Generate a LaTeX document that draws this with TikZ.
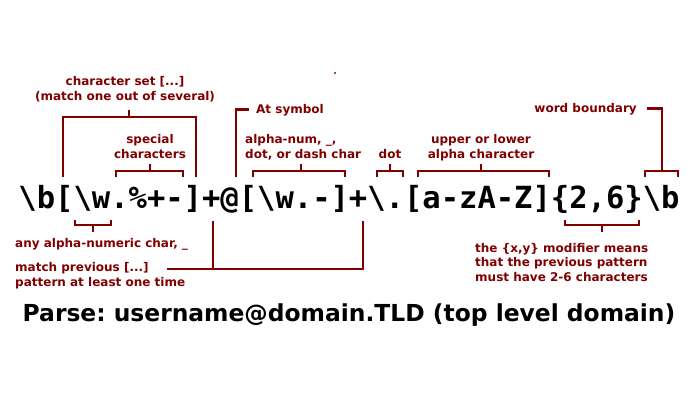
\documentclass[tikz,border=0pt]{standalone}
\usepackage{fontspec}
\setmainfont{DejaVu Sans}
\setmonofont{DejaVu Sans Mono}
\usetikzlibrary{positioning}
\definecolor{notecolor}{HTML}{800000}
\frenchspacing

\begin{document}
\begin{tikzpicture}[x=1pt, y=-1pt,
    note/.style={font=\fontsize{12}{14.5}\selectfont\bfseries, text=notecolor,
                 inner sep=0pt},
    brace/.style={draw=notecolor, line width=2.9pt},
    regex/.style={font=\fontsize{30.5}{36}\selectfont\ttfamily\bfseries, inner sep=0pt}
]
    \useasboundingbox (0,0) rectangle (700,400);

    % the expression and the title
    \node[regex, anchor=base] (expr) at (349,208)
        {\textbackslash b[\textbackslash w.\%+-]+@[\textbackslash w.-]+\textbackslash .[a-zA-Z]\{2,6\}\textbackslash b};
    \node[font=\fontsize{23.4}{26}\selectfont\bfseries, inner sep=0pt, anchor=base] (title) at (349,321)
        {Parse: username@domain.TLD (top level domain)};

    % labels above (base = last line)
    \node[note, align=center, anchor=base] (cset) at (125,100) {character set [...]\\(match one out of several)};
    \node[note, align=center, anchor=base] (spec) at (150,158) {special\\characters};
    \node[note, anchor=base west] (atsym) at (256,113) {At symbol};
    \node[note, align=left, anchor=base west] (anum) at (245,158) {alpha-num, \_,\\dot, or dash char};
    \node[note, anchor=base] (dot) at (390,158) {dot};
    \node[note, align=center, anchor=base] (alpha) at (481,158) {upper or lower\\alpha character};
    \node[note, anchor=base east] (wordb) at (637,112) {word boundary};

    % labels below
    \node[note, anchor=base west] (wchar) at (15,247) {any alpha-numeric char, \_};
    \node[note, align=left, anchor=base west] (plus) at (15,286) {match previous [...]\\pattern at least one time};
    \node[note, align=left, anchor=base west] (range) at (475,281)
        {the \{x,y\} modifier means\\that the previous pattern\\must have 2-6 characters};

    % tick ends
    \coordinate (csetT) at (129,110);
    \coordinate (specT) at (150,164);
    \coordinate (anumT) at (301,164);
    \coordinate (dotT) at (390,164);
    \coordinate (alphaT) at (481,164);
    \coordinate (wchT) at (93,232);
    \coordinate (plusT) at (167,269);
    \coordinate (rangeT) at (602,232);

    % brackets above
    \draw[brace] (63,177) |- (196,117) -- (196,177);
    \draw[brace] (129,117) -- (csetT);
    \draw[brace] (116,177) |- (183,171) -- (183,177);
    \draw[brace] (150,171) -- (specT);
    \draw[brace] (236,177) |- ([xshift=-7pt]atsym.west);
    \draw[brace] (253,177) |- (345,171) -- (345,177);
    \draw[brace] (301,171) -- (anumT);
    \draw[brace] (377,177) |- (403,171) -- (403,177);
    \draw[brace] (390,171) -- (dotT);
    \draw[brace] (418,177) |- (549,171) -- (549,177);
    \draw[brace] (481,171) -- (alphaT);
    \draw[brace] (645,177) |- (678,171) -- (678,177);
    \draw[brace] (662,171) |- ([xshift=10pt]wordb.east);

    % brackets below
    \draw[brace] (75,220) |- (111,225) -- (111,220);
    \draw[brace] (93,225) -- (wchT);
    \draw[brace] (plusT) -| (363,221);
    \draw[brace] (213,221) -- (213,269);
    \draw[brace] (565,220) |- (639,225) -- (639,220);
    \draw[brace] (602,225) -- (rangeT);

    \fill[notecolor!70] (334,72) rectangle (336,74);
\end{tikzpicture}
\end{document}
